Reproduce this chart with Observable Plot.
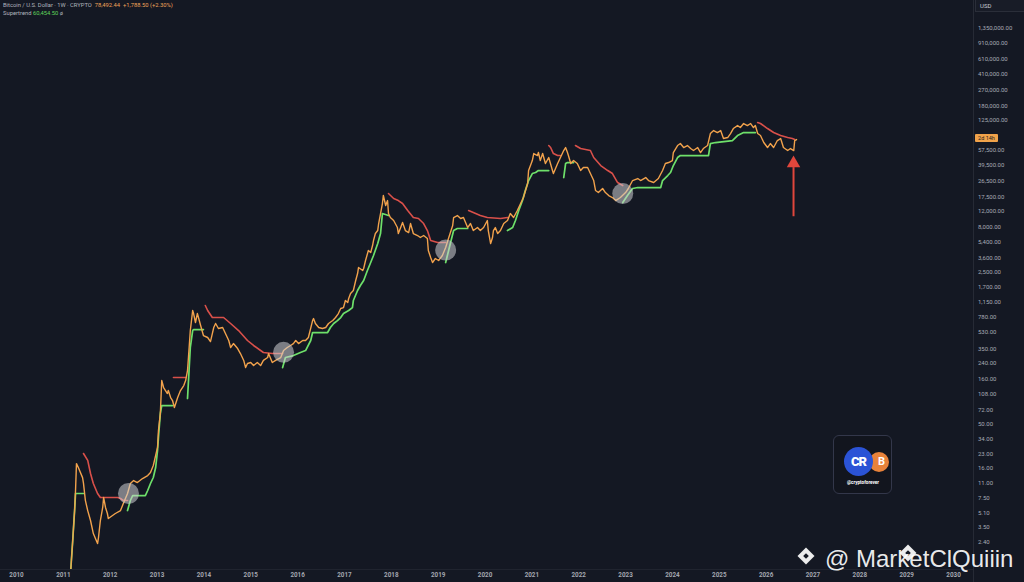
<!DOCTYPE html>
<html><head><meta charset="utf-8">
<script src="https://cdn.jsdelivr.net/npm/d3@7"></script>
<script src="https://cdn.jsdelivr.net/npm/@observablehq/plot@0.6"></script>
<style>
html,body{margin:0;padding:0;background:#141823;width:1024px;height:582px;overflow:hidden;font-family:Roboto,"Noto Sans",sans-serif;}
#wrap{position:relative;width:1024px;height:582px;}
#chart svg{display:block;}
.ov{position:absolute;}
#legend{left:3px;top:1px;font-size:5.8px;line-height:8px;color:#b2b5be;white-space:nowrap;}
#usd{left:975px;top:0;width:49px;height:12px;border-left:1px solid #2a2e39;border-bottom:1px solid #2a2e39;background:#181c27;color:#c8cbd3;font-size:6px;line-height:12px;padding-left:4px;box-sizing:border-box;}
#vsep{left:973px;top:0;width:1px;height:582px;background:#262a35;}
#hsep{left:0;top:569px;width:973px;height:1px;background:#20242f;}
#plabel{left:975px;top:134px;width:23px;height:8px;background:#f0a24a;color:#1a1a1a;font-size:5.5px;line-height:8px;text-align:center;border-radius:1px;}
#logo{left:833px;top:435px;width:59px;height:59px;border:1px solid #33374a;border-radius:6px;background:#12151e;box-sizing:border-box;}
#c1{left:869px;top:452px;width:20px;height:20px;border-radius:50%;background:#e8823a;color:#fff;font-size:11px;font-weight:bold;line-height:20px;text-align:right;padding-right:4px;box-sizing:border-box;}
#c2{left:844px;top:447px;width:29px;height:29px;border-radius:50%;background:#2b53d6;color:#fff;font-size:13px;font-weight:900;line-height:29px;text-align:center;letter-spacing:-1px;}
#handle{left:843px;top:480px;width:40px;font-size:4.6px;font-weight:bold;color:#fff;text-align:center;}
#wm{left:825px;top:547px;height:24px;line-height:24px;font-size:24px;font-family:"Liberation Sans",Arial,sans-serif;font-weight:normal;color:rgba(255,255,255,0.92);white-space:nowrap;}
.dia{width:12px;height:12px;background:rgba(255,255,255,0.92);transform:rotate(45deg);}
.dia::after{content:"";position:absolute;left:4px;top:4px;width:4px;height:4px;background:#141823;}
</style></head><body>
<div id="wrap">
<div id="chart"></div>
<div class="ov" id="vsep"></div>
<div class="ov" id="hsep"></div>
<div class="ov" id="legend">Bitcoin / U.S. Dollar · 1W · CRYPTO &nbsp;<span style="color:#f0a45a">78,492.44 &nbsp;+1,788.50 (+2.30%)</span><br>Supertrend <span style="color:#5fd35a">60,454.50</span> ø</div>
<div class="ov" id="usd">USD</div>
<div class="ov" id="plabel">2d 14h</div>
<div class="ov" id="logo"></div>
<div class="ov" id="c1">B</div>
<div class="ov" id="c2">CR</div>
<div class="ov" id="handle">@cryptoforever</div>
<div class="ov dia" style="left:800px;top:550px;"></div>
<div class="ov dia" style="left:902px;top:547px;"></div>
<div class="ov" id="wm">@ MarketClQuiiin</div>
</div>
<script>
// ---- data ----
const yearTicks = [2010,2011,2012,2013,2014,2015,2016,2017,2018,2019,2020,2021,2022,2023,2024,2025,2026,2027,2028,2029,2030];
const priceTicks = [2.4,3.5,5.1,7.5,11,16,23,34,50,72,108,160,240,350,530,780,1150,1700,2500,3600,5400,8000,12000,17500,26500,39500,57500,125000,180000,270000,410000,610000,910000,1350000];

const priceDate = [2011.15,2011.20,2011.24,2011.26,2011.28,2011.32,2011.41,2011.43,2011.47,2011.52,2011.58,2011.64,2011.73,2011.75,2011.79,2011.84,2011.86,2011.90,2011.94,2011.96,
2012.05,2012.11,2012.22,2012.28,2012.37,2012.43,2012.50,2012.58,2012.69,2012.80,2012.86,2012.92,2013.01,2013.03,2013.07,2013.10,2013.14,2013.18,2013.22,2013.24,
2013.29,2013.33,2013.37,2013.44,2013.50,2013.57,2013.61,2013.65,2013.67,2013.71,2013.76,2013.78,2013.82,2013.86,2013.89,2013.93,2013.99,2014.08,2014.14,2014.18,
2014.21,2014.25,2014.31,2014.40,2014.46,2014.53,2014.57,2014.63,2014.72,2014.78,2014.85,2014.89,2014.93,2015.00,2015.06,2015.14,2015.21,2015.27,2015.36,2015.38,
2015.46,2015.53,2015.64,2015.70,2015.78,2015.85,2015.91,2015.96,2016.02,2016.11,2016.17,2016.23,2016.32,2016.34,2016.38,2016.45,2016.53,2016.60,2016.66,2016.75,
2016.81,2016.87,2016.92,2016.98,2017.02,2017.07,2017.09,2017.13,2017.19,2017.24,2017.28,2017.30,2017.39,2017.41,2017.45,2017.51,2017.56,2017.60,2017.62,2017.66,
2017.71,2017.73,2017.77,2017.81,2017.83,2017.88,2017.92,2017.94,2017.98,2018.05,2018.13,2018.15,2018.20,2018.24,2018.30,2018.37,2018.41,2018.47,2018.56,2018.62,
2018.69,2018.77,2018.79,2018.84,2018.88,2018.94,2019.01,2019.09,2019.16,2019.22,2019.31,2019.33,2019.41,2019.48,2019.54,2019.63,2019.69,2019.75,2019.84,2019.90,
2019.97,2020.05,2020.07,2020.12,2020.16,2020.18,2020.22,2020.27,2020.33,2020.40,2020.48,2020.54,2020.61,2020.69,2020.76,2020.82,2020.91,2020.93,2021.01,2021.04,
2021.12,2021.14,2021.18,2021.23,2021.29,2021.36,2021.44,2021.46,2021.55,2021.61,2021.68,2021.72,2021.76,2021.78,2021.83,2021.89,2021.97,2022.04,2022.10,2022.19,
2022.25,2022.32,2022.36,2022.42,2022.51,2022.57,2022.64,2022.72,2022.79,2022.89,2023.00,2023.06,2023.15,2023.26,2023.32,2023.43,2023.49,2023.60,2023.70,2023.79,
2023.85,2023.92,2024.00,2024.02,2024.11,2024.17,2024.24,2024.32,2024.39,2024.45,2024.54,2024.60,2024.66,2024.75,2024.81,2024.88,2024.96,2025.03,2025.09,2025.18,
2025.24,2025.30,2025.39,2025.45,2025.52,2025.60,2025.67,2025.73,2025.77,2025.82,2025.88,2025.95,2026.03,2026.09,2026.16,2026.24,2026.31,2026.37,2026.46,2026.52,
2026.59,2026.61,2026.65];
const priceValue = [1.05,2.59,5.61,9.4,18.8,17.0,13.1,11.3,7.3,5.6,4.34,3.1,2.4,2.8,4.34,6.07,7.85,6.07,5.2,4.57,
4.94,5.2,5.61,6.72,8.7,11.26,12.16,11.55,12.8,13.83,14.94,17.9,28.5,44.1,68.3,159.7,133.4,123.5,114.3,123.5,
103.1,95.4,79.7,103.1,123.5,140.5,159.7,206.8,288.9,579,970,897,712,897,789,659,509,484,436,536,
626,694,610,626,536,448,374,414,364,320,268,223,248,254,235,254,235,268,289,320,
254,268,289,346,374,394,414,448,414,448,448,484,749,789,694,626,610,626,694,749,
810,897,1021,1047,1254,1192,1321,1502,1623,2101,2515,2935,2716,2860,3515,4549,4320,5172,5884,7046,
7610,9117,11790,15260,18750,14500,16480,11790,10640,9846,8222,7046,8222,9354,7610,7229,9117,7046,6692,6356,
6692,6194,4549,3797,3338,3701,3515,3999,4913,6194,8655,10640,11200,10370,10640,8222,9117,7610,8222,7610,
8222,9846,7610,5446,6356,7610,8222,7046,7610,9117,9846,11790,10640,12740,15260,17810,25540,35700,46170,55300,
52530,56750,46170,55300,42750,49890,35700,33040,42750,49890,59760,64550,56750,52530,42750,46170,42750,35700,38560,38560,
33040,27590,21330,20250,22460,20250,18750,17810,16480,17810,20250,22460,27590,29050,27590,29810,27590,26210,29050,35700,
42750,43860,46170,56750,67960,71540,64550,67960,62900,59760,64550,56750,62900,67960,92570,100000,95000,100000,81390,83510,
92570,105300,113700,108000,119800,113700,119800,108000,113700,92570,87930,73410,64550,71540,64550,77300,81390,64550,59760,62900,
59760,77300,79310];

// Supertrend, uptrend (green) segments
const upSeg   = [1,1,1,1,1, 2,2,2,2,2,2,2,2,2,2,2,2,2, 3,3,3,3,3, 4,4,4,4,4,4,4,4,4,4,4,4,4,4,4,4,4,4,4,4,4,4,4,4,4,4, 5,5,5,5,5, 6,6,6,6,6,6,6,6,6,6,6, 7,7,7,7, 8,8,8,8,8,8,8,8,8,8,8,8,8,8,8,8,8,8];
const upDate  = [2011.15,2011.20,2011.24,2011.26,2011.43,
2012.37,2012.43,2012.48,2012.75,2012.80,2012.86,2012.92,2012.97,2013.01,2013.03,2013.07,2013.10,2013.33,
2013.65,2013.71,2013.76,2013.78,2013.99,
2015.68,2015.74,2015.91,2016.06,2016.17,2016.28,2016.32,2016.64,2016.70,2016.77,2016.85,2016.92,2016.98,2017.09,2017.17,2017.19,2017.28,2017.34,2017.41,2017.49,2017.56,2017.62,2017.71,2017.77,2017.81,2017.94,
2019.16,2019.26,2019.33,2019.41,2019.63,
2020.48,2020.59,2020.65,2020.72,2020.80,2020.86,2020.93,2021.01,2021.08,2021.14,2021.36,
2021.68,2021.72,2021.76,2021.89,
2022.94,2023.04,2023.15,2023.26,2023.75,2023.79,2023.90,2023.96,2024.02,2024.11,2024.17,2024.77,2024.81,2024.92,2025.28,2025.39,2025.52,2025.77];
const upValue = [1.05,2.59,5.61,8.7,8.7,
5.61,7.27,8.26,8.26,9.4,11.26,13.14,17.0,26.3,36.8,68.3,83.9,83.9,
100.5,374,579,594,594,
223,289,304,329,346,448,550,550,626,694,749,810,897,970,1047,1254,1623,1846,2101,2716,3338,3999,5446,7046,11790,11200,
3338,5446,7610,8015,8015,
7610,8222,9846,12740,16480,21330,27590,33040,33910,35700,35700,
29810,42750,43860,43860,
15650,18750,22460,23040,23040,27590,31390,33910,40600,49890,52530,52530,71540,73410,77300,87930,95000,95000];

// Supertrend, downtrend (red) segments
const downSeg   = [1,1,1,1,1,1,1,1,1,1, 2,2, 3,3,3,3,3,3,3,3,3,3,3, 4,4,4,4,4,4,4,4,4,4,4,4, 5,5,5,5,5,5, 6,6,6,6,6, 7,7,7,7,7,7,7,7,7, 8,8,8,8,8,8,8,8];
const downDate  = [2011.43,2011.52,2011.58,2011.64,2011.73,2011.79,2012.16,2012.22,2012.28,2012.37,
2013.35,2013.61,
2014.03,2014.08,2014.18,2014.42,2014.57,2014.74,2014.93,2015.06,2015.27,2015.46,2015.68,
2017.94,2018.05,2018.15,2018.24,2018.35,2018.47,2018.58,2018.69,2018.77,2018.84,2018.99,2019.16,
2019.65,2019.75,2019.90,2020.05,2020.33,2020.48,
2021.36,2021.40,2021.46,2021.55,2021.61,
2021.93,2022.04,2022.25,2022.32,2022.47,2022.62,2022.72,2022.83,2022.94,
2025.82,2025.88,2026.03,2026.16,2026.31,2026.46,2026.56,2026.61];
const downValue = [24.4,20.4,14.57,11.26,8.7,7.85,7.85,7.65,7.27,7.27,
172.6,172.6,
1103,970,810,810,694,579,448,394,329,320,320,
19740,17360,16480,15260,12740,10640,10370,9117,7610,5884,5589,5589,
12740,12100,11200,10640,10370,10640,
67960,64550,55300,52530,52530,
67960,62900,59760,49890,40600,35700,33040,26210,24250,
122900,119800,105300,95000,87930,83510,81390,79310];

// Trend flip highlights
const flipDate  = [2012.39, 2015.70, 2019.16, 2022.94];
const flipValue = [8.7, 330, 4600, 19700];

// Red arrow
const arrowDate = [2026.585];
const arrowBase = [11000];
const arrowShaftTop = [39000];
const arrowHead = [43000];

// ---- build tables ----
const price = priceDate.map((d,i)=>({date:d, value:priceValue[i]}));
const up = upDate.map((d,i)=>({date:d, value:upValue[i], seg:upSeg[i]}));
const down = downDate.map((d,i)=>({date:d, value:downValue[i], seg:downSeg[i]}));
const flips = flipDate.map((d,i)=>({date:d, value:flipValue[i]}));
const arrow = arrowDate.map((d,i)=>({date:d, base:arrowBase[i], top:arrowShaftTop[i], head:arrowHead[i]}));

const fmt = d3.format(",.2f");
const chart = Plot.plot({
  width: 1024, height: 582,
  marginLeft: 0, marginRight: 51, marginTop: 0, marginBottom: 13,
  style: {background: "transparent", color: "#a7aab3", fontFamily: "Roboto, 'Noto Sans', sans-serif"},
  x: {domain: [2009.6585, 2030.4265], axis: null},
  y: {type: "log", domain: [1.229, 2849000], axis: null},
  marks: [
    Plot.text(yearTicks, {x: d => d, frameAnchor: "bottom", dy: 7, text: d => String(d), fontSize: 6.3, fontWeight: "bold", fill: "#a3a6af", clip: false}),
    Plot.text(priceTicks, {y: d => d, frameAnchor: "right", dx: 4.5, dy: -1.5, textAnchor: "start", text: d => fmt(d), fontSize: 6, fill: "#a7aab3", clip: false}),
    Plot.line(down, {x: "date", y: "value", z: "seg", stroke: "#d9504a", strokeWidth: 1.6, clip: true}),
    Plot.line(up, {x: "date", y: "value", z: "seg", stroke: "#6ee06a", strokeWidth: 1.7, clip: true}),
    Plot.line(price, {x: "date", y: "value", stroke: "#f2a24c", strokeWidth: 1.4, clip: true}),
    Plot.dot(flips, {x: "date", y: "value", r: 10.5, fill: "#cfd2d6", fillOpacity: 0.55, stroke: "none"}),
    Plot.link(arrow, {x1: "date", y1: "base", x2: "date", y2: "top", stroke: "#e0463c", strokeWidth: 2}),
    Plot.dot(arrow, {x: "date", y: "head", symbol: "triangle", r: 5, fill: "#e0463c", stroke: "none"})
  ]
});
document.getElementById("chart").append(chart);
</script>
</body></html>
